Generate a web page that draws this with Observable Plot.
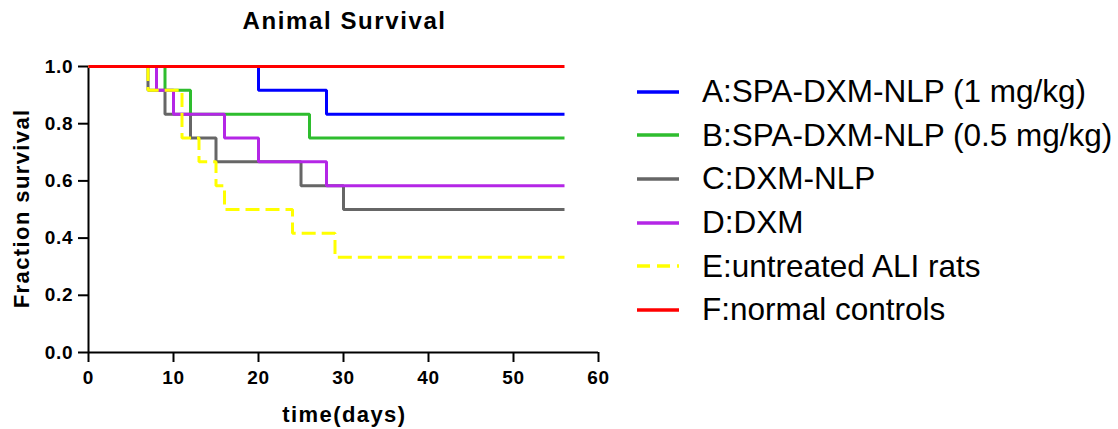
<!DOCTYPE html>
<html>
<head>
<meta charset="utf-8">
<script src="https://cdn.jsdelivr.net/npm/d3@7"></script>
<script src="https://cdn.jsdelivr.net/npm/@observablehq/plot@0.6"></script>
<style>
  html, body { margin: 0; padding: 0; background: #fff; }
  #wrap { position: relative; width: 1118px; height: 429px; overflow: hidden; font-family: "Liberation Sans", Arial, sans-serif; }
  #wrap svg.plot { position: absolute; left: 0; top: 0; }
  #title { position: absolute; left: 88px; width: 510px; top: 9px; text-align: center; font-weight: bold; font-size: 24px; line-height: 24px; letter-spacing: 1.6px; padding-left: 1.6px; color: #000; }
  #xlabel { position: absolute; left: 88px; width: 510px; top: 404px; text-align: center; font-weight: bold; font-size: 22px; line-height: 22px; letter-spacing: 1.4px; padding-left: 1.4px; color: #000; }
  #ylabel { position: absolute; left: -129.5px; width: 300px; top: 198px; text-align: center; font-weight: bold; font-size: 22px; line-height: 22px; letter-spacing: 1.4px; padding-left: 1.4px; color: #000; transform: rotate(-90deg); transform-origin: 50% 50%; }
  #legend { position: absolute; left: 637px; top: 70px; }
  .row { display: flex; align-items: center; height: 43.6px; }
  .row svg { display: block; margin-right: 23px; }
  .row span { font-size: 31.5px; color: #000; white-space: nowrap; }
  svg.plot g[aria-label="x-axis tick label"], svg.plot g[aria-label="y-axis tick label"] { font-size: 19px !important; font-weight: bold; }
  svg.plot g[aria-label="x-axis tick label"] text, svg.plot g[aria-label="y-axis tick label"] text { letter-spacing: 0.8px; font-size: 19px; font-weight: bold; }
</style>
</head>
<body>
<div id="wrap">
  <div id="title">Animal Survival</div>
  <div id="xlabel"></div>
  <div id="ylabel"></div>
  <div id="legend"></div>
</div>
<script>
const groups = [
  "A:SPA-DXM-NLP (1 mg/kg)",
  "B:SPA-DXM-NLP (0.5 mg/kg)",
  "C:DXM-NLP",
  "D:DXM",
  "E:untreated ALI rats",
  "F:normal controls"
];
const colors = ["#0000ff", "#2ebd2e", "#666666", "#b426e6", "#ffff00", "#ff0000"];
const dashed = [false, false, false, false, true, false];

const daysA = [0, 20, 28, 56];
const survA = [1, 0.9167, 0.8333, 0.8333];
const daysB = [0, 9, 12, 26, 56];
const survB = [1, 0.9167, 0.8333, 0.75, 0.75];
const daysC = [0, 7, 9, 12, 15, 25, 30, 56];
const survC = [1, 0.9167, 0.8333, 0.75, 0.6667, 0.5833, 0.5, 0.5];
const daysD = [0, 8, 10, 16, 20, 28, 56];
const survD = [1, 0.9167, 0.8333, 0.75, 0.6667, 0.5833, 0.5833];
const daysE = [0, 7, 11, 13, 15, 16, 24, 29, 56];
const survE = [1, 0.9167, 0.75, 0.6667, 0.5833, 0.5, 0.4167, 0.3333, 0.3333];
const daysF = [0, 56];
const survF = [1, 1];

const xTicks = [0, 10, 20, 30, 40, 50, 60];
const yTicks = [0, 0.2, 0.4, 0.6, 0.8, 1.0];
const xLabel = "time(days)";
const yLabel = "Fraction survival";

const allDays = [daysA, daysB, daysC, daysD, daysE, daysF];
const allSurv = [survA, survB, survC, survD, survE, survF];

const series = groups.map((g, i) => allDays[i].map((d, j) => ({group: g, day: d, surv: allSurv[i][j]})));

const font = "'Liberation Sans', Arial, sans-serif";

const lineMarks = series.map((rows, i) => Plot.line(rows, {
  x: "day", y: "surv", curve: "step-after",
  stroke: colors[i], strokeWidth: 3,
  strokeLinejoin: "miter", strokeLinecap: "butt",
  strokeDasharray: dashed[i] ? "14,6" : null
}));

const svg = Plot.plot({
  width: 1118,
  height: 429,
  marginLeft: 88,
  marginRight: 520,
  marginTop: 66,
  marginBottom: 77,
  style: {fontFamily: font, background: "transparent", color: "#000"},
  x: {domain: [0, 60]},
  y: {domain: [0, 1]},
  marks: [
    Plot.axisX({ticks: xTicks, tickSize: 10, tickPadding: 8, fontSize: 19, fontWeight: "bold", strokeWidth: 2, label: null, tickFormat: d3.format("d")}),
    Plot.axisY({ticks: yTicks, tickSize: 10, tickPadding: 5, fontSize: 19, fontWeight: "bold", strokeWidth: 2, label: null, tickFormat: d3.format(".1f")}),
    Plot.ruleX([0], {stroke: "#000", strokeWidth: 2}),
    Plot.ruleY([0], {stroke: "#000", strokeWidth: 2}),
    ...lineMarks
  ]
});
svg.classList.add("plot");
document.getElementById("wrap").appendChild(svg);
document.getElementById("xlabel").textContent = xLabel;
document.getElementById("ylabel").textContent = yLabel;

const legend = d3.select("#legend");
groups.forEach((g, i) => {
  const row = legend.append("div").attr("class", "row");
  const sw = row.append("svg").attr("width", 42).attr("height", 6);
  sw.append("line").attr("x1", 0).attr("x2", 42).attr("y1", 3).attr("y2", 3)
    .attr("stroke", colors[i]).attr("stroke-width", 3.5)
    .attr("stroke-dasharray", dashed[i] ? "13,7" : null);
  row.append("span").text(g);
});
</script>
</body>
</html>
